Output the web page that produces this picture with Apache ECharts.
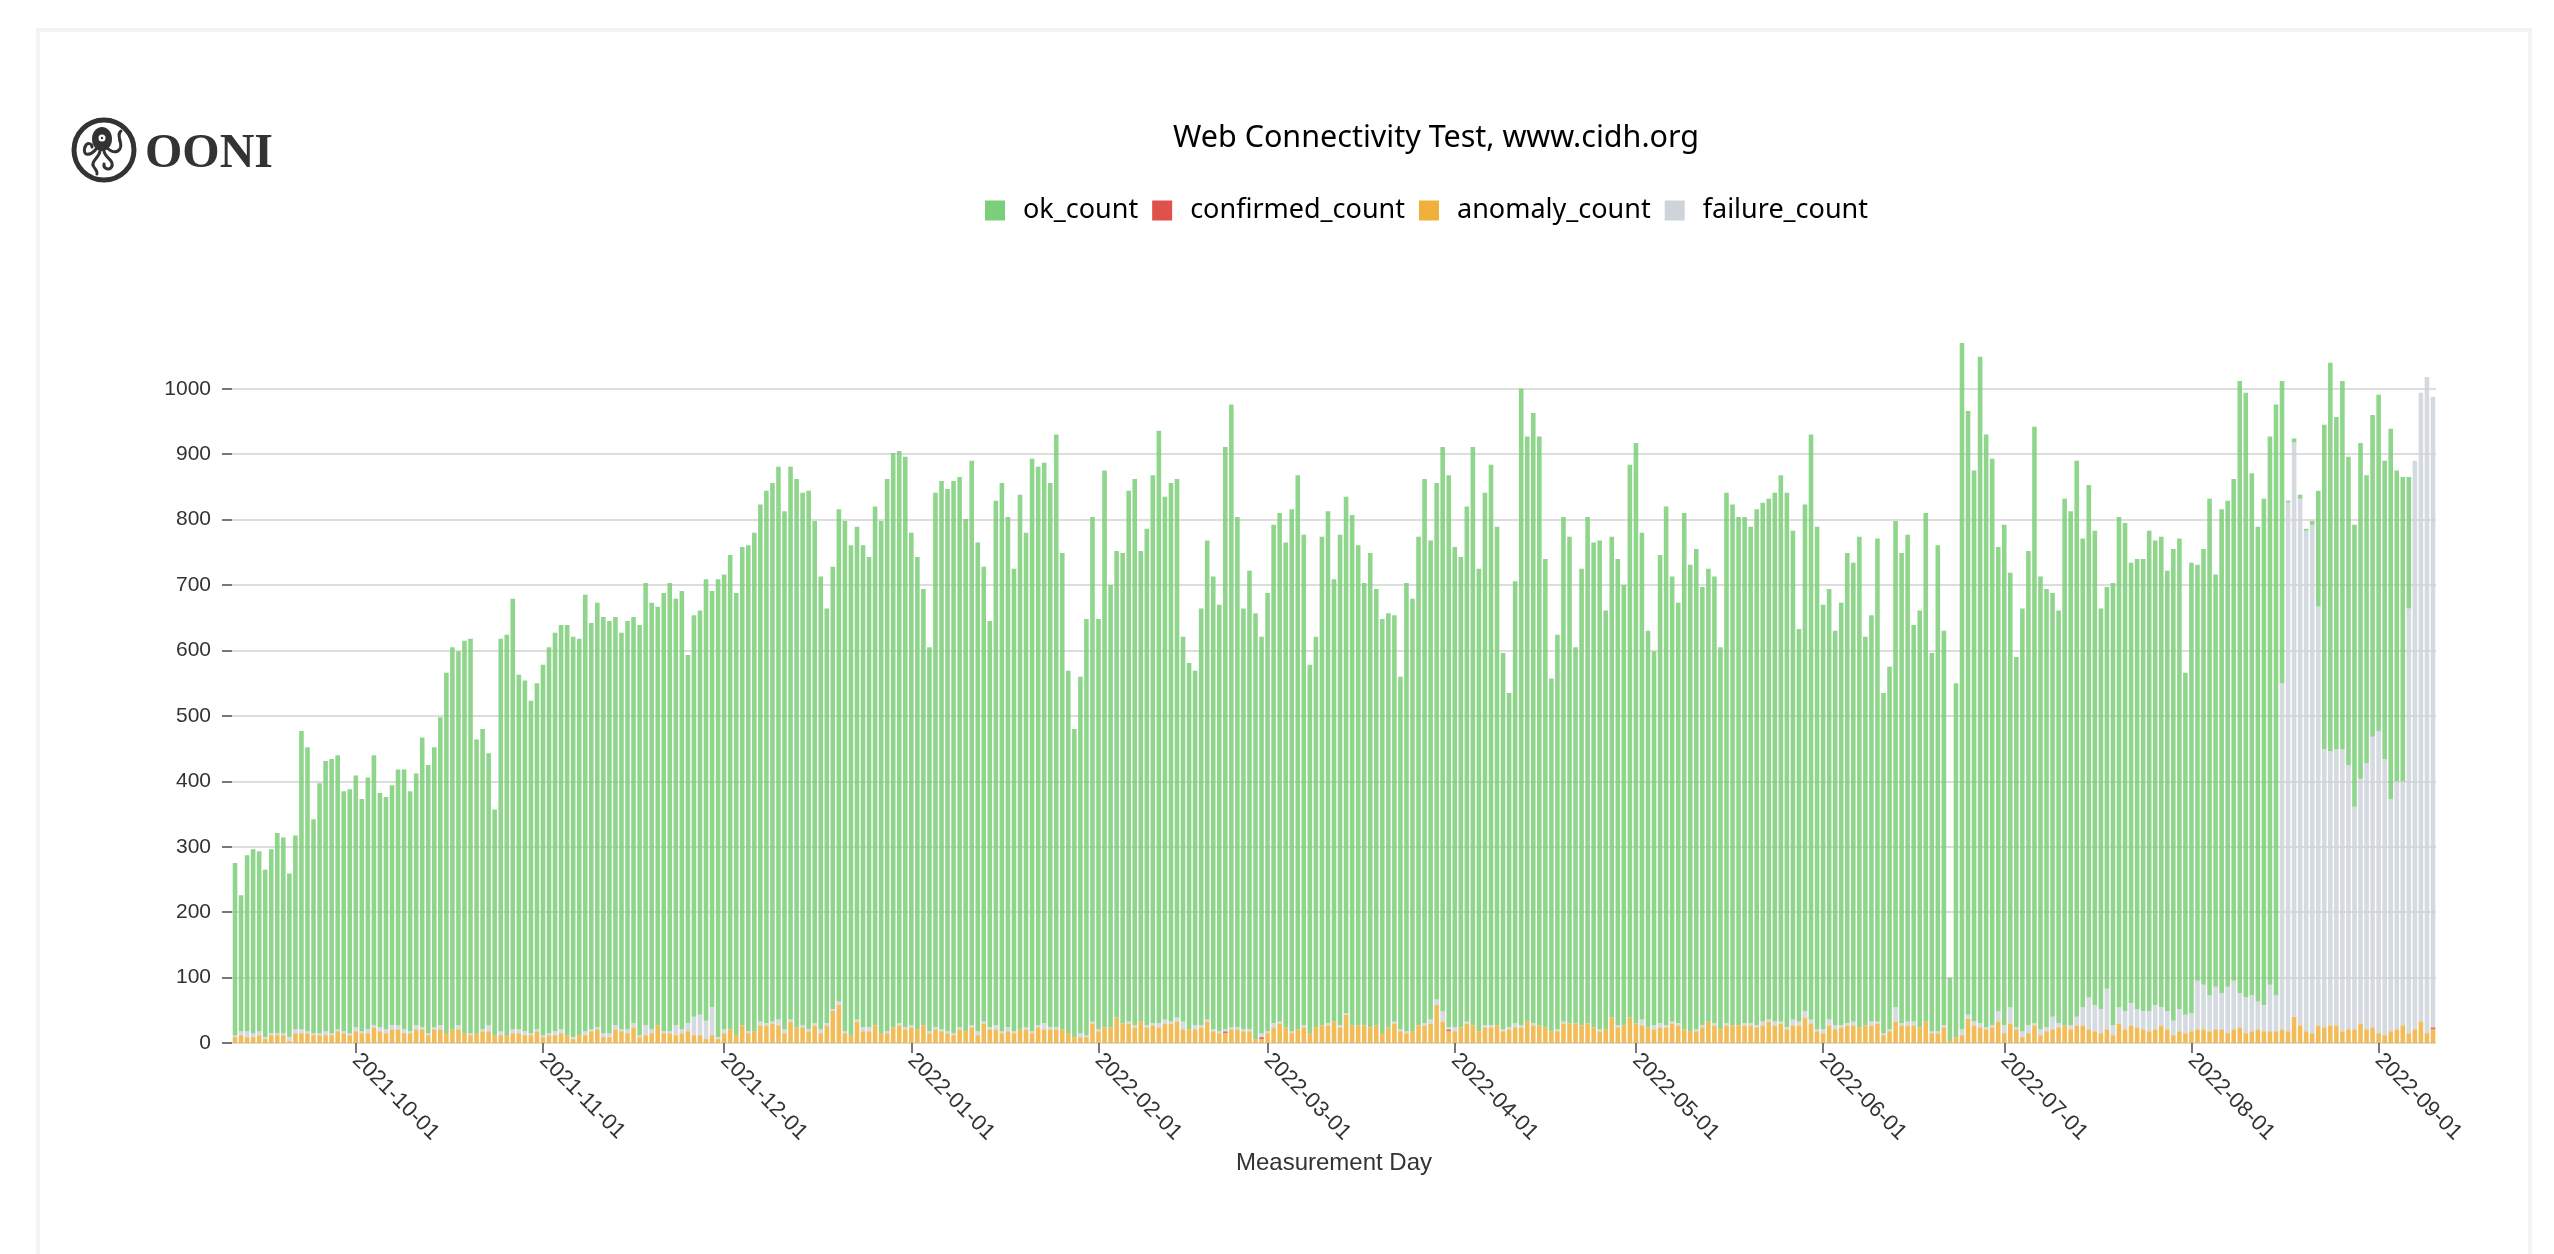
<!DOCTYPE html>
<html>
<head>
<meta charset="utf-8">
<title>Web Connectivity Test, www.cidh.org</title>
<style>html,body{margin:0;padding:0;background:#fff}#chart{width:2554px;height:1254px}</style>
<script src="https://cdn.jsdelivr.net/npm/echarts@6/dist/echarts.min.js"></script>
</head>
<body>
<div id="chart"></div>
<script>
// One bar per measurement day, starting on this date.
const first_day = '2021-09-11';
const y_ticks = [0, 100, 200, 300, 400, 500, 600, 700, 800, 900, 1000];
const legend_order = ['ok_count', 'confirmed_count', 'anomaly_count', 'failure_count'];

// Daily totals; ok_count is what remains after the other three.
const measurement_count = [
275,226,287,296,293,265,296,321,314,259,
317,477,452,342,397,431,434,440,385,388,
409,373,406,440,382,376,394,418,418,385,
412,467,425,452,498,566,605,599,615,618,
464,480,443,357,618,624,679,563,554,523,
550,578,605,627,639,639,621,618,685,642,
673,651,645,651,627,645,651,639,703,673,
667,688,703,679,691,593,654,661,709,691,
709,716,746,688,758,761,780,823,844,856,
881,813,881,862,841,844,798,713,664,728,
816,798,761,789,761,743,820,798,862,902,
905,896,780,743,694,605,841,859,847,859,
865,801,890,765,728,645,829,856,804,725,
838,780,893,881,887,856,930,749,569,480,
560,648,804,648,875,700,752,749,844,862,
752,786,868,936,835,856,862,621,581,569,
664,768,713,670,911,976,804,664,722,657,
621,688,792,810,765,816,868,777,578,621,
774,813,709,777,835,807,761,703,749,694,
648,657,654,560,703,679,774,862,768,856,
911,868,758,743,820,911,725,841,884,789,
596,535,706,1000,927,963,927,740,557,624,
804,774,605,725,804,765,768,661,774,740,
700,884,917,780,630,599,746,820,713,673,
810,731,755,697,725,713,605,841,823,804,
804,789,816,826,832,841,868,841,783,633,
823,930,789,670,694,630,673,749,734,774,
621,654,771,535,575,798,749,777,639,661,
810,596,761,630,100,550,1070,966,875,1049,
930,893,758,792,719,590,664,752,942,713,
694,688,661,832,813,890,771,853,783,664,
697,703,804,795,734,740,740,783,768,774,
722,755,771,566,734,731,755,832,716,816,
829,862,1012,994,871,789,832,927,976,1012,
829,924,838,786,798,844,945,1040,957,1012,
896,792,917,868,960,991,890,939,875,865,
865,890,994,1018,988
];

const anomaly_count = [
9,12,9,9,12,6,12,12,12,3,
15,15,15,12,12,12,12,18,15,12,
18,15,15,24,18,15,21,21,15,15,
21,21,12,21,21,15,21,21,15,12,
15,18,18,12,12,12,15,15,12,12,
18,9,12,12,15,12,6,12,12,18,
21,9,9,21,18,15,24,9,12,15,
27,15,15,12,15,18,12,12,6,12,
6,15,21,12,27,15,18,27,27,30,
27,15,33,24,24,18,27,15,27,49,
58,15,12,33,18,18,27,15,15,24,
27,21,24,21,27,15,21,18,15,12,
21,18,24,12,30,21,21,15,18,15,
21,21,15,24,21,21,21,21,15,9,
9,9,30,18,24,24,39,30,30,24,
33,24,27,24,30,30,33,21,21,21,
24,33,18,15,15,21,21,18,18,6,
6,15,24,30,24,15,21,24,15,24,
27,27,33,24,43,27,27,27,24,27,
15,24,30,18,15,18,27,27,30,58,
33,18,18,24,30,27,18,24,24,27,
18,21,24,24,33,27,27,24,18,18,
30,30,30,27,30,24,18,21,39,24,
27,39,30,27,24,21,24,24,30,27,
21,18,18,24,33,27,21,27,27,27,
27,27,24,27,33,27,30,21,27,27,
39,30,18,15,27,21,24,27,27,24,
27,27,30,12,18,33,27,27,27,24,
33,15,15,24,3,9,12,37,27,24,
21,24,33,15,30,21,9,15,27,12,
18,21,24,27,21,27,27,21,18,15,
21,12,30,21,27,24,21,18,21,27,
21,12,18,15,18,21,21,18,21,21,
15,21,24,15,18,21,18,18,18,21,
18,40,27,18,15,27,24,27,27,18,
21,21,30,21,24,15,12,18,21,27,
15,21,33,15,21
];

const confirmed_count = [
0,0,0,0,0,0,0,0,0,0, 0,0,0,0,0,0,0,0,0,0, 0,0,0,0,0,0,0,0,0,0,
0,0,0,0,0,0,0,0,0,0, 0,0,0,0,0,0,0,0,0,0, 0,0,0,0,0,0,0,0,0,0,
0,0,0,0,0,0,0,0,0,0, 0,0,0,0,0,0,0,0,0,0, 0,0,0,0,0,0,0,0,0,0,
0,0,0,0,0,0,0,0,0,0, 0,0,0,0,0,0,0,0,0,0, 0,0,0,0,0,0,0,0,0,0,
0,0,0,0,0,0,0,0,0,0, 0,0,0,0,0,0,0,0,0,0, 0,0,0,0,0,0,0,0,0,0,
0,0,0,0,0,0,0,0,0,0, 0,0,0,0,3,0,0,0,0,0, 3,0,0,0,0,0,0,0,0,0,
0,0,0,0,0,0,0,0,0,0, 0,0,0,0,0,0,0,0,0,0, 0,3,0,0,0,0,0,0,0,0,
0,0,0,0,0,0,0,0,0,0, 0,0,0,0,0,0,0,0,0,0, 0,0,0,0,0,0,0,0,0,0,
0,0,0,0,0,0,0,0,0,0, 0,0,0,0,0,0,0,0,0,0, 0,0,0,0,0,0,0,0,0,0,
0,0,0,0,0,0,0,0,0,0, 0,0,0,0,0,0,0,0,0,0, 0,0,0,0,0,0,0,0,0,0,
0,0,0,0,0,0,0,0,0,0, 0,0,0,0,0,0,0,0,0,0, 0,0,0,0,0,0,0,0,0,0,
0,0,0,0,0,0,0,0,0,0, 0,0,0,0,0,0,0,0,0,0, 0,0,0,0,0,0,0,0,0,0,
0,0,0,0,3
];

const failure_count = [
3,6,9,6,6,3,3,3,3,6,
6,6,3,3,3,6,3,3,3,3,
6,3,6,3,6,6,6,6,6,3,
6,3,3,3,6,0,0,6,0,3,
0,3,9,0,6,0,6,6,6,3,
3,3,3,6,6,0,3,0,6,3,
3,6,6,6,3,6,6,3,15,6,
0,3,3,15,6,12,28,31,28,43,
3,6,0,0,0,3,0,6,3,3,
9,6,3,0,3,3,3,6,3,3,
6,3,0,3,6,6,0,0,3,0,
3,3,3,0,0,3,3,3,3,3,
3,0,3,6,3,3,6,3,6,3,
0,3,3,3,9,3,3,0,0,0,
6,3,3,3,0,0,0,0,3,3,
0,3,3,6,6,3,6,12,0,6,
3,3,3,3,3,3,3,3,3,0,
6,3,6,3,0,3,0,3,0,0,
0,3,0,3,3,0,0,0,0,0,
0,0,3,3,3,0,0,3,6,9,
16,3,6,0,3,0,0,3,3,0,
3,3,6,3,0,3,0,0,0,3,
3,0,0,0,0,0,3,0,0,3,
0,0,0,9,0,6,6,3,3,3,
0,0,3,3,0,3,0,3,0,0,
3,3,3,6,3,6,3,3,9,6,
10,6,3,6,9,6,3,3,6,0,
0,6,3,3,3,22,3,6,6,0,
0,3,3,3,0,0,9,6,6,6,
3,3,16,12,25,3,9,12,3,9,
6,19,6,0,6,13,28,49,40,37,
62,15,25,28,34,28,28,31,37,28,
28,22,34,28,28,74,68,55,65,55,
71,74,52,55,55,43,40,71,55,529,
808,878,805,765,777,640,425,419,422,431,
404,340,374,407,444,462,422,355,379,373,
649,869,961,1003,964
];

const ok_count = measurement_count.map((total, i) =>
  Math.max(0, total - anomaly_count[i] - confirmed_count[i] - failure_count[i]));

// ISO dates for the category axis, one per measurement_count entry.
const days = measurement_count.map((_, i) => {
  const d = new Date(first_day + 'T00:00:00Z');
  d.setUTCDate(d.getUTCDate() + i);
  return d.toISOString().slice(0, 10);
});
const isMonthStart = (index, value) => value.endsWith('-01');

const colors = { ok_count: '#7bcf78', confirmed_count: '#e0514b', anomaly_count: '#f0b13c', failure_count: '#ced4da' };
const stackBar = (name, data) => ({
  name, data, type: 'bar', stack: 'total', barWidth: 4.6,
  itemStyle: { color: colors[name], opacity: 0.85 }, silent: true
});
// One stroked curve of the octopus mark.
const tentacle = (x1, y1, cpx1, cpy1, cpx2, cpy2, x2, y2) => ({
  type: 'bezierCurve', silent: true,
  shape: { x1, y1, cpx1, cpy1, cpx2, cpy2, x2, y2 },
  style: { fill: 'none', stroke: '#333', lineWidth: 3, lineCap: 'round' }
});

const chart = echarts.init(document.getElementById('chart'), null, { renderer: 'canvas' });
chart.setOption({
  animation: false,
  backgroundColor: '#ffffff',
  textStyle: { fontFamily: '"Liberation Sans", Arial, sans-serif' },
  title: {
    text: 'Web Connectivity Test, www.cidh.org',
    left: 1168, top: 118,
    textStyle: { fontFamily: '"Noto Sans"', fontSize: 30.5, fontWeight: 'normal', color: '#000' }
  },
  legend: {
    data: legend_order, left: 980, top: 192, itemWidth: 20, itemHeight: 20, itemGap: 14,
    icon: 'rect', selectedMode: false, itemStyle: { opacity: 1 },
    textStyle: { fontFamily: '"Noto Sans"', fontSize: 27, color: '#000', padding: [0, 0, 0, 13] }
  },
  grid: { left: 232, right: 118, top: 343, bottom: 211, containLabel: false },
  xAxis: {
    type: 'category', data: days,
    name: 'Measurement Day', nameLocation: 'middle', nameGap: 107,
    nameTextStyle: { fontSize: 24, color: '#333' },
    axisLine: { show: false },
    axisTick: { show: true, alignWithLabel: true, interval: isMonthStart, length: 10, lineStyle: { color: '#777', width: 2 } },
    axisLabel: { interval: isMonthStart, rotate: -45, fontSize: 22, color: '#333', margin: 14, hideOverlap: false }
  },
  yAxis: {
    type: 'value', min: 0, max: 1070, interval: 100,
    axisLine: { show: false },
    axisTick: { show: true, length: 10, lineStyle: { color: '#777', width: 2 }, customValues: y_ticks },
    axisLabel: { fontSize: 21, color: '#333', margin: 21, customValues: y_ticks, formatter: (v) => String(v) },
    splitLine: { show: true, showMaxLine: true, lineStyle: { color: '#ddd', width: 2 } }
  },
  series: [
    stackBar('anomaly_count', anomaly_count),
    stackBar('confirmed_count', confirmed_count),
    stackBar('failure_count', failure_count),
    stackBar('ok_count', ok_count)
  ],
  graphic: [
    // Page card outline, open past the bottom edge
    { type: 'rect', silent: true, shape: { x: 38, y: 30, width: 2492, height: 1300 }, style: { fill: 'none', stroke: '#f1f3f5', lineWidth: 4 } },
    // OONI logo: ring, octopus and wordmark
    { type: 'circle', silent: true, shape: { cx: 104, cy: 150, r: 30 }, style: { fill: '#fff', stroke: '#333', lineWidth: 5 } },
    { type: 'ellipse', silent: true, shape: { cx: 102, cy: 139, rx: 10, ry: 12 }, style: { fill: '#333' } },
    { type: 'circle', silent: true, shape: { cx: 102, cy: 138, r: 3.5 }, style: { fill: '#fff' } },
    { type: 'circle', silent: true, shape: { cx: 102, cy: 138, r: 1.2 }, style: { fill: '#333' } },
    tentacle(97, 148, 90, 157, 82, 156, 85, 147),
    tentacle(85, 147, 87, 142, 92, 143, 92, 147),
    tentacle(107, 148, 116, 156, 123, 150, 120, 141),
    tentacle(120, 141, 119, 136, 118, 133, 121, 131),
    tentacle(100, 151, 99, 158, 92, 160, 93, 165),
    tentacle(93, 165, 94, 169, 98, 170, 97, 174),
    tentacle(104, 151, 105, 158, 114, 160, 112, 166),
    tentacle(112, 166, 110, 171, 103, 169, 104, 164),
    { type: 'text', silent: true, style: { x: 145, y: 155, text: 'OONI', fill: '#333', font: 'bold 48px "Liberation Serif"', verticalAlign: 'middle' } }
  ]
});
</script>
</body>
</html>
